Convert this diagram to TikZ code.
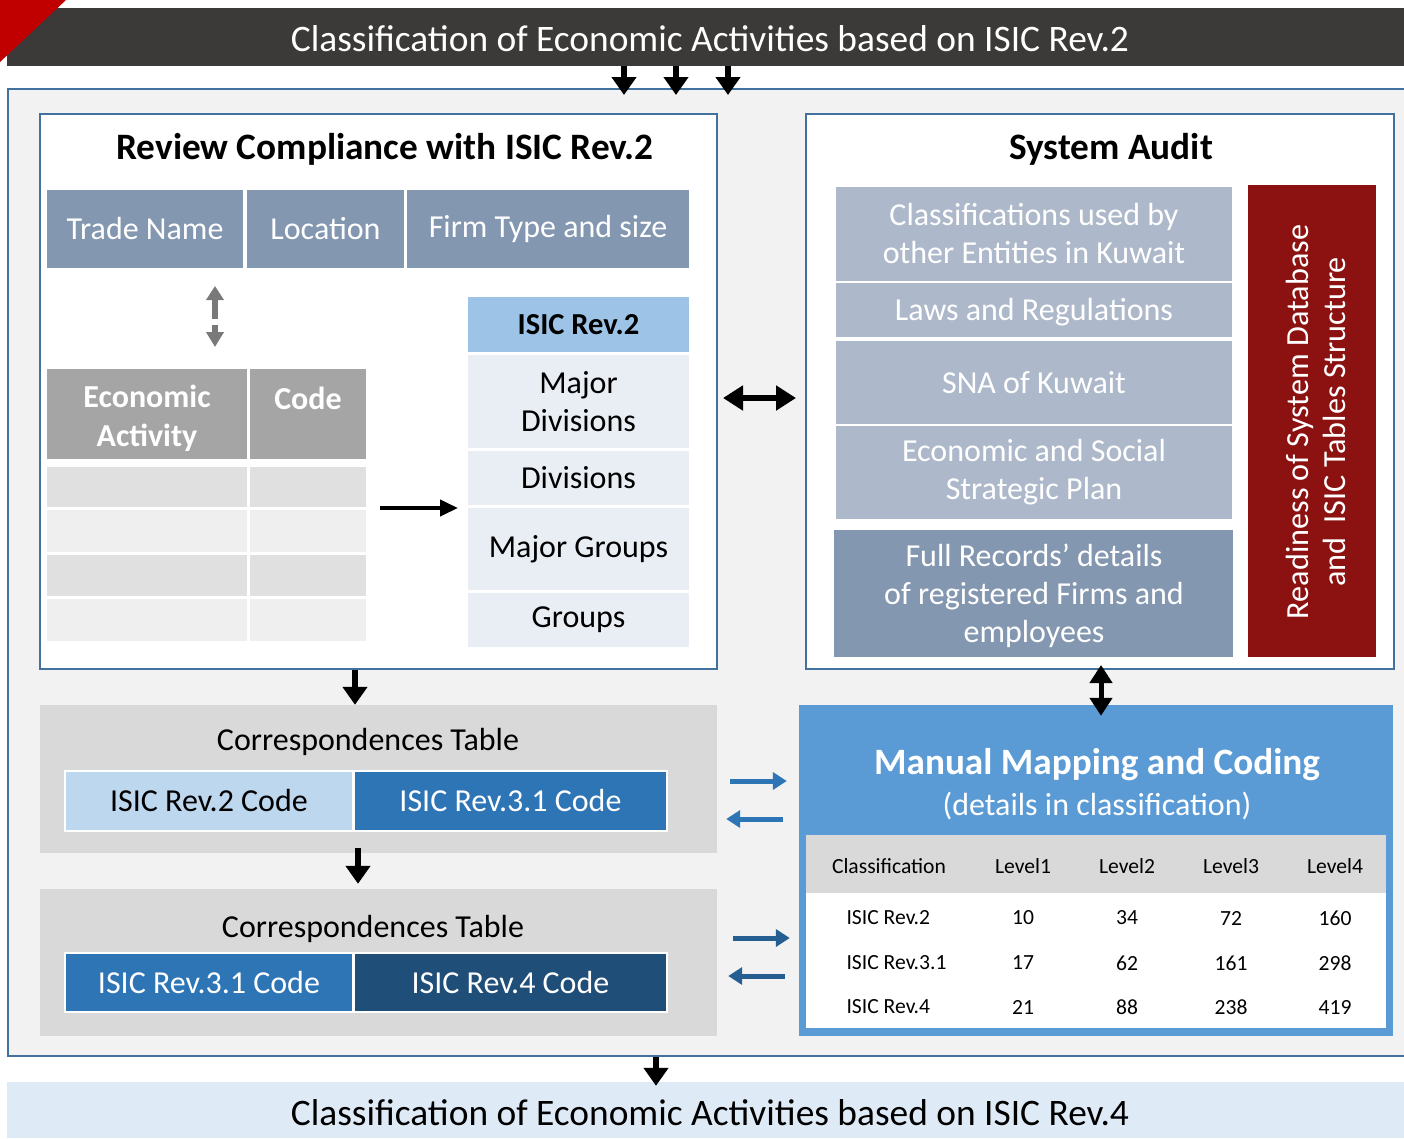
\documentclass[tikz,border=0pt]{standalone}
\usepackage{fontspec}
\setmainfont{Carlito}
\usetikzlibrary{arrows.meta}
\definecolor{hdrdark}{HTML}{3B3A39}
\definecolor{cornerred}{HTML}{C00000}
\definecolor{outerbg}{HTML}{F2F2F2}
\definecolor{bord}{HTML}{41719C}
\definecolor{slate}{HTML}{8497B0}
\definecolor{midgray}{HTML}{A5A5A5}
\definecolor{rowdark}{HTML}{E0E0E0}
\definecolor{rowlight}{HTML}{EFEFEF}
\definecolor{isichead}{HTML}{9DC3E6}
\definecolor{isiccell}{HTML}{E9EDF4}
\definecolor{auditcell}{HTML}{ADB9CA}
\definecolor{wine}{HTML}{8B1211}
\definecolor{corrgray}{HTML}{D9D9D9}
\definecolor{lightblue}{HTML}{BDD7EE}
\definecolor{midblue}{HTML}{2E75B6}
\definecolor{darkblue}{HTML}{1F4E79}
\definecolor{manualblue}{HTML}{5B9BD5}
\definecolor{botbar}{HTML}{DEEBF7}
\definecolor{arrowdark}{HTML}{255E91}
\newcommand\fsz[2]{\fontsize{#1}{#2}\selectfont}
\newcommand\cell[7]{%
  \pgfmathsetmacro\cw{#4-#2}\pgfmathsetmacro\ch{#5-#3}%
  \node[#6,minimum width=\cw pt,minimum height=\ch pt] (#1) at ({(#2+#4)/2},{(#3+#5)/2}) {#7};}
\begin{document}
\begin{tikzpicture}[x=1pt,y=-1pt,
  box/.style={draw=none,inner sep=0pt,align=center},
  body/.style={font=\fsz{32}{38}},
  ttl/.style={font=\bfseries\fsz{37.3}{42}},
  small/.style={font=\fsz{21.6}{25}},
  blockarrow/.style={line width=6pt,-{Triangle[width=24pt,length=18pt]}},
  dblarrow/.style={line width=6pt,{Triangle[width=24pt,length=20pt]}-{Triangle[width=24pt,length=20pt]}},
  grayarrow/.style={draw=gray!95!black,line width=6pt,-{Triangle[width=17pt,length=14pt]}},
  bluearrow/.style={line width=5pt,-{Triangle[width=17pt,length=14pt]}},
  ]
\useasboundingbox (0,0) rectangle (1404,1138);
\clip (0,0) rectangle (1404,1138);
\fill[white] (0,0) rectangle (1404,1138);

% named x / y positions
\coordinate (xA) at (624,0);
\coordinate (xB) at (676,0);
\coordinate (xC) at (728,0);
\coordinate (x355) at (355,0);
\coordinate (x358) at (358,0);
\coordinate (x1101) at (1101,0);
\coordinate (x656) at (656,0);
\coordinate (y398) at (0,398);
\coordinate (y781) at (0,781);
\coordinate (y819) at (0,819);
\coordinate (y938) at (0,938);
\coordinate (y976) at (0,976);

% top header
\cell{hdr}{7}{8}{1420}{66}{box,fill=hdrdark}{}
\node[text=white,font=\fsz{37.4}{40}] (hdrtxt) at (710,39) {Classification of Economic Activities based on ISIC Rev.2};
\fill[cornerred] (0,0) -- (66,0) -- (0,62) -- cycle;

% outer box
\cell{outer}{8}{89}{1420}{1056}{box,fill=outerbg,draw=bord,line width=2pt}{}

% left panel
\cell{left}{40}{114}{717}{669}{box,fill=white,draw=bord,line width=2pt}{}
\node[ttl] (lefttitle) at (385,149) {Review Compliance with ISIC Rev.2};
\cell{trade}{47}{190}{243}{268}{box,fill=slate,text=white,body}{Trade Name}
\cell{loc}{247}{190}{404}{268}{box,fill=slate,text=white,body}{Location}
\cell{firm}{407}{190}{689}{268}{box,fill=slate,text=white,body}{Firm Type and size}

\coordinate (ga1) at (215,319);
\coordinate (ga2) at (215,286);
\coordinate (gb1) at (215,325);
\coordinate (gb2) at (215,347);
\draw[grayarrow] (ga1) -- (ga2);
\draw[grayarrow,-{Triangle[width=17pt,length=15pt]}] (gb1) -- (gb2);

\cell{econ}{47}{369}{247}{459}{box,fill=midgray}{}
\cell{code}{250}{369}{366}{459}{box,fill=midgray}{}
\node[text=white,font=\bfseries\fsz{32}{39},align=center] (econtxt) at (147,418) {Economic\\Activity};
\node[text=white,font=\bfseries\fsz{32}{39}] (codetxt) at (308,398) {Code};
\cell{ra1}{47}{467}{247}{507}{box,fill=rowdark}{}
\cell{rb1}{250}{467}{366}{507}{box,fill=rowdark}{}
\cell{ra2}{47}{510}{247}{552}{box,fill=rowlight}{}
\cell{rb2}{250}{510}{366}{552}{box,fill=rowlight}{}
\cell{ra3}{47}{555}{247}{596}{box,fill=rowdark}{}
\cell{rb3}{250}{555}{366}{596}{box,fill=rowdark}{}
\cell{ra4}{47}{599}{247}{641}{box,fill=rowlight}{}
\cell{rb4}{250}{599}{366}{641}{box,fill=rowlight}{}

\cell{isic}{468}{297}{689}{352}{box,fill=isichead,font=\bfseries\fsz{30.5}{36}}{ISIC Rev.2}
\cell{majdiv}{468}{355}{689}{448}{box,fill=isiccell,body}{Major\\Divisions}
\cell{div}{468}{451}{689}{505}{box,fill=isiccell,body}{Divisions}
\cell{majgrp}{468}{508}{689}{590}{box,fill=isiccell,body}{Major Groups}
\cell{grp}{468}{593}{689}{647}{box,fill=isiccell,body}{Groups}

\coordinate (ea) at (380,508);
\coordinate (eb) at (458,508);
\draw[line width=4pt,-{Triangle[width=16pt,length=18pt]}] (ea) -- (eb);

% right panel
\cell{audit}{806}{114}{1394}{669}{box,fill=white,draw=bord,line width=2pt}{}
\node[ttl] (audittitle) at (1111,149) {System Audit};
\cell{a1}{836}{187}{1232}{281}{box,fill=auditcell,text=white,body}{Classifications used by\\other Entities in Kuwait}
\cell{a2}{836}{283}{1232}{337}{box,fill=auditcell}{}
\node[text=white,body] (a2txt) at (1034,312) {Laws and Regulations};
\cell{a3}{836}{341}{1232}{424}{box,fill=auditcell,text=white,body}{SNA of Kuwait}
\cell{a4}{836}{426}{1232}{519}{box,fill=auditcell,text=white,body}{Economic and Social\\Strategic Plan}
\cell{a5}{834}{530}{1233}{657}{box,fill=slate}{}
\node[text=white,body,align=center] (a5txt) at (1034,596) {Full Records’ details\\of registered Firms and\\employees};
\cell{ready}{1248}{185}{1376}{657}{box,fill=wine}{}
\node[rotate=90,text=white,align=center,font=\fsz{32.2}{37}] (readytxt) at (1316,422) {Readiness of System Database\\and\ \ ISIC Tables Structure};

\draw[dblarrow] ([xshift=5pt]left.east |- y398) -- ([xshift=-9pt]audit.west |- y398);

% correspondence tables
\cell{corr1}{40}{705}{717}{853}{box,fill=corrgray}{}
\node[body] (corr1t) at (368,742) {Correspondences Table};
\fill[white] (64,770) rectangle (668,832);
\cell{c12}{66}{772}{352}{830}{box,fill=lightblue,body}{ISIC Rev.2 Code}
\cell{c131}{355}{772}{666}{830}{box,fill=midblue,text=white,body}{ISIC Rev.3.1 Code}

\cell{corr2}{40}{889}{717}{1036}{box,fill=corrgray}{}
\node[body] (corr2t) at (373,929) {Correspondences Table};
\fill[white] (64,952) rectangle (668,1013);
\cell{c231}{66}{954}{352}{1011}{box,fill=midblue,text=white,body}{ISIC Rev.3.1 Code}
\cell{c24}{355}{954}{666}{1011}{box,fill=darkblue,text=white,body}{ISIC Rev.4 Code}

\draw[blockarrow] (left.south -| x355) -- (corr1.north -| x355);
\draw[blockarrow] ([yshift=5pt]corr1.south -| x358) -- ([yshift=5pt]corr2.north -| x358);

% manual mapping
\cell{manual}{799}{705}{1393}{1036}{box,fill=manualblue}{}
\node[text=white,font=\bfseries\fsz{37.2}{42}] (mantitle) at (1097,765) {Manual Mapping and Coding};
\node[text=white,body] (mansub) at (1097,806) {(details in classification)};
\cell{tbl}{806}{835}{1386}{1028}{box,fill=white}{}
\cell{tblh}{806}{835}{1386}{893}{box,fill=corrgray}{}
\node[small] (h0) at (889,866) {Classification};
\node[small] (h1) at (1023,866) {Level1};
\node[small] (h2) at (1127,866) {Level2};
\node[small] (h3) at (1231,866) {Level3};
\node[small] (h4) at (1335,866) {Level4};
\node[small,anchor=west] (r1c0) at (843,918) {ISIC Rev.2};
\node[small] (r1c1) at (1023,918) {10};
\node[small] (r1c2) at (1127,918) {34};
\node[small] (r1c3) at (1231,918) {72};
\node[small] (r1c4) at (1335,918) {160};
\node[small,anchor=west] (r2c0) at (843,963) {ISIC Rev.3.1};
\node[small] (r2c1) at (1023,963) {17};
\node[small] (r2c2) at (1127,963) {62};
\node[small] (r2c3) at (1231,963) {161};
\node[small] (r2c4) at (1335,963) {298};
\node[small,anchor=west] (r3c0) at (843,1007) {ISIC Rev.4};
\node[small] (r3c1) at (1023,1007) {21};
\node[small] (r3c2) at (1127,1007) {88};
\node[small] (r3c3) at (1231,1007) {238};
\node[small] (r3c4) at (1335,1007) {419};

\draw[line width=5pt,{Triangle[width=22pt,length=18pt]}-{Triangle[width=22pt,length=18pt]}] ([yshift=5pt]audit.south -| x1101) -- ([yshift=-11pt]manual.north -| x1101);

\draw[bluearrow,draw=midblue] ([xshift=13pt]corr1.east |- y781) -- ([xshift=-12pt]manual.west |- y781);
\draw[bluearrow,draw=midblue] ([xshift=-16pt]manual.west |- y819) -- ([xshift=9pt]corr1.east |- y819);
\draw[bluearrow,draw=arrowdark] ([xshift=16pt]corr2.east |- y938) -- ([xshift=-9pt]manual.west |- y938);
\draw[bluearrow,draw=arrowdark] ([xshift=-14pt]manual.west |- y976) -- ([xshift=11pt]corr2.east |- y976);

% bottom
\cell{bot}{7}{1082}{1420}{1138}{box,fill=botbar}{}
\node[font=\fsz{37.4}{40}] (bottxt) at (710,1113) {Classification of Economic Activities based on ISIC Rev.4};
\draw[blockarrow] (outer.south -| x656) -- ([yshift=-4pt]bot.north -| x656);

% top arrows
\draw[blockarrow] (hdr.south -| xA) -- ([yshift=-7pt]outer.north -| xA);
\draw[blockarrow] (hdr.south -| xB) -- ([yshift=-7pt]outer.north -| xB);
\draw[blockarrow] (hdr.south -| xC) -- ([yshift=-7pt]outer.north -| xC);
\end{tikzpicture}
\end{document}
